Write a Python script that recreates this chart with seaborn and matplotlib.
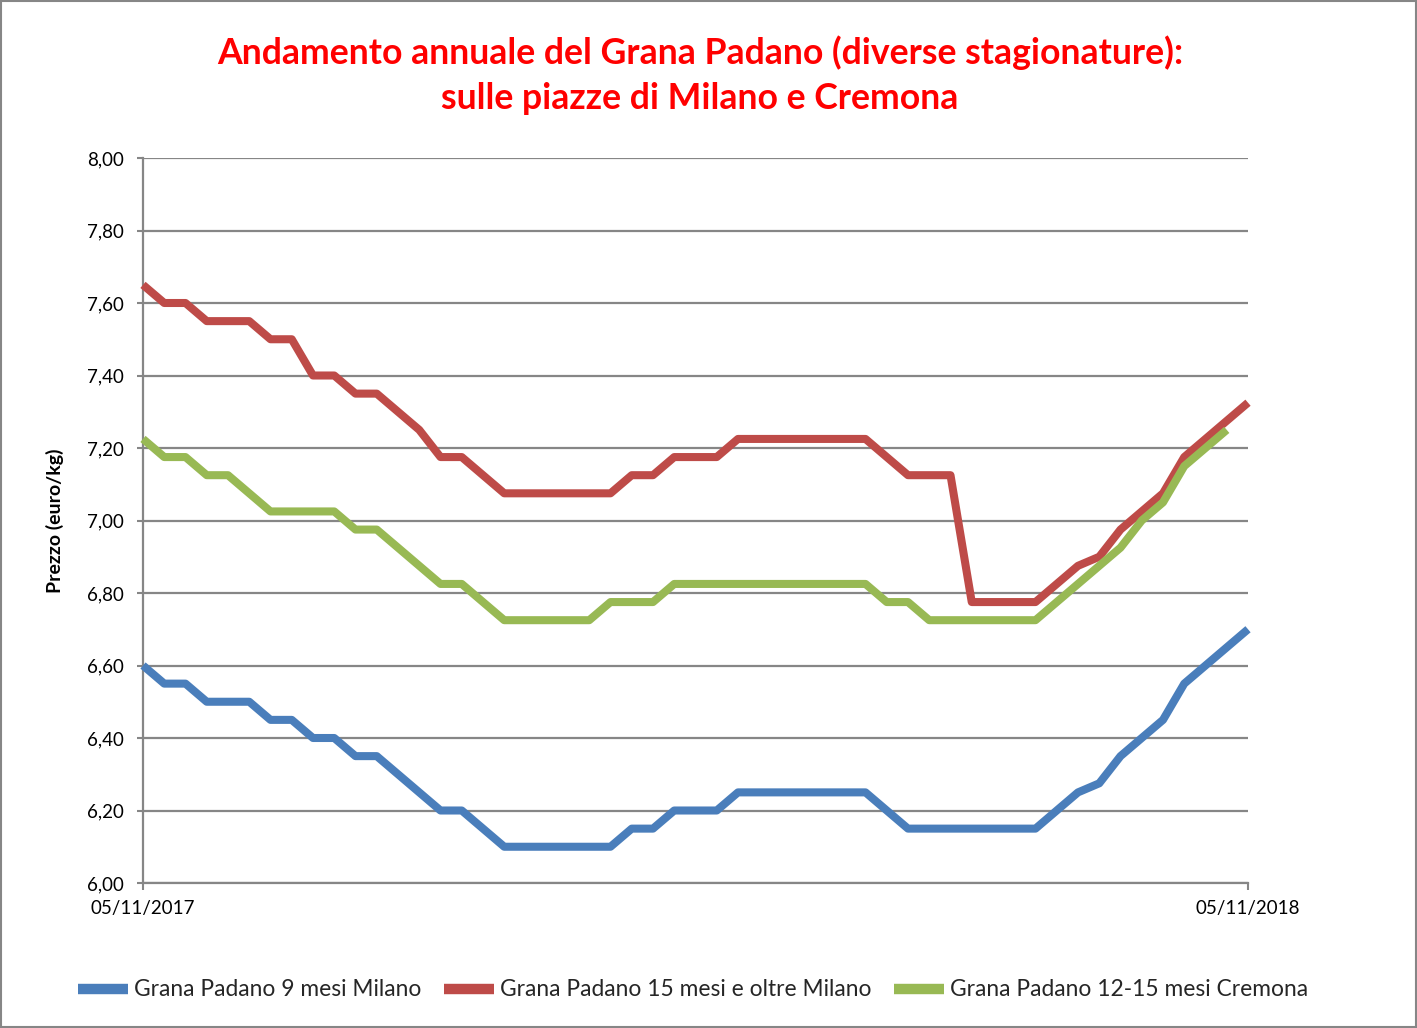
import matplotlib
matplotlib.use("Agg")
import matplotlib.pyplot as plt
import seaborn as sns
import pandas as pd
import numpy as np
from matplotlib.lines import Line2D
from matplotlib.patches import Rectangle

# ---- data (weekly quotations, 05/11/2017 -> 05/11/2018) ----
settimane = list(range(53))

milano_9_mesi = [6.60, 6.55, 6.55, 6.50, 6.50, 6.50, 6.45, 6.45, 6.40, 6.40,
                 6.35, 6.35, 6.30, 6.25, 6.20, 6.20, 6.15, 6.10, 6.10, 6.10,
                 6.10, 6.10, 6.10, 6.15, 6.15, 6.20, 6.20, 6.20, 6.25, 6.25,
                 6.25, 6.25, 6.25, 6.25, 6.25, 6.20, 6.15, 6.15, 6.15, 6.15,
                 6.15, 6.15, 6.15, 6.20, 6.25, 6.275, 6.35, 6.40, 6.45, 6.55,
                 6.60, 6.65, 6.70]

milano_15_mesi = [7.65, 7.60, 7.60, 7.55, 7.55, 7.55, 7.50, 7.50, 7.40, 7.40,
                  7.35, 7.35, 7.30, 7.25, 7.175, 7.175, 7.125, 7.075, 7.075, 7.075,
                  7.075, 7.075, 7.075, 7.125, 7.125, 7.175, 7.175, 7.175, 7.225, 7.225,
                  7.225, 7.225, 7.225, 7.225, 7.225, 7.175, 7.125, 7.125, 7.125, 6.775,
                  6.775, 6.775, 6.775, 6.825, 6.875, 6.90, 6.975, 7.025, 7.075, 7.175,
                  7.225, 7.275, 7.325]

cremona_12_15_mesi = [7.225, 7.175, 7.175, 7.125, 7.125, 7.075, 7.025, 7.025, 7.025, 7.025,
                      6.975, 6.975, 6.925, 6.875, 6.825, 6.825, 6.775, 6.725, 6.725, 6.725,
                      6.725, 6.725, 6.775, 6.775, 6.775, 6.825, 6.825, 6.825, 6.825, 6.825,
                      6.825, 6.825, 6.825, 6.825, 6.825, 6.775, 6.775, 6.725, 6.725, 6.725,
                      6.725, 6.725, 6.725, 6.775, 6.825, 6.875, 6.925, 7.00, 7.05, 7.15,
                      7.20, 7.25]

serie = ["Grana Padano 9 mesi Milano",
         "Grana Padano 15 mesi e oltre Milano",
         "Grana Padano 12-15 mesi Cremona"]
colori = ["#4A7EBB", "#BE4B48", "#98B954"]

etichette_x = ["05/11/2017", "05/11/2018"]
titolo = ("Andamento annuale del Grana Padano (diverse stagionature):",
          "sulle piazze di Milano e Cremona")
etichetta_y = "Prezzo (euro/kg)"

rows = []
for nome, valori in zip(serie, [milano_9_mesi, milano_15_mesi, cremona_12_15_mesi]):
    for s, v in zip(settimane, valori):
        rows.append({"settimana": s, "prezzo": v, "serie": nome})
df = pd.DataFrame(rows)

# ---- style ----
sns.set_theme(style="white")
plt.rcParams["font.family"] = ["Lato", "DejaVu Sans"]

W, H = 1417, 1028
fig = plt.figure(figsize=(W / 100, H / 100), dpi=100)
ax = fig.add_axes([143 / W, 1 - 883 / H, 1105 / W, 725 / H])

sns.lineplot(data=df, x="settimana", y="prezzo", hue="serie", hue_order=serie,
             palette=colori, linewidth=5.8, legend=False, errorbar=None, ax=ax)
for ln in ax.lines:
    ln.set_solid_joinstyle("round")
    ln.set_solid_capstyle("butt")
    ln.set_clip_on(False)
    ln.set_zorder(3)

grigio = "#868686"
ax.set_xlim(0, 52)
ax.set_ylim(6, 8)
yt = np.round(np.arange(6.0, 8.001, 0.2), 2)
ax.set_yticks(yt)
ax.set_yticklabels([f"{v:.2f}".replace(".", ",") for v in yt])
ax.set_xticks([0, 52])
ax.set_xticklabels(etichette_x)

ax.set_axisbelow(True)
ax.yaxis.grid(True, color=grigio, lw=1.6)
ax.xaxis.grid(False)
for sp in ["top", "right"]:
    ax.spines[sp].set_visible(False)
for sp in ["left", "bottom"]:
    ax.spines[sp].set_color(grigio)
    ax.spines[sp].set_linewidth(1.6)

ax.tick_params(axis="y", direction="out", length=4.5, width=1.5, color=grigio,
               pad=9, labelsize=13.5, labelcolor="black", left=True)
ax.tick_params(axis="x", direction="out", length=5, width=1.5, color=grigio,
               pad=7, labelsize=13.5, labelcolor="black", bottom=True)

ax.set_xlabel("")
ax.set_ylabel(etichetta_y, fontsize=14, fontweight="bold", color="black", labelpad=17)

fig.text(700 / W, 1 - 64 / H, titolo[0], ha="center", va="baseline",
         color="#FF0000", fontsize=25.7, fontweight="bold")
fig.text(700 / W, 1 - 109 / H, titolo[1], ha="center", va="baseline",
         color="#FF0000", fontsize=25.7, fontweight="bold")

handles = [Line2D([0], [0], color=c, lw=7.5, solid_capstyle="butt") for c in colori]
fig.legend(handles, serie, loc="center", bbox_to_anchor=(693 / W, 1 - 990 / H),
           ncol=3, frameon=False, fontsize=16.4, handlelength=2.2,
           handletextpad=0.25, columnspacing=1.0)

fig.patches.append(Rectangle((0.0007, 0.001), 0.9986, 0.998, transform=fig.transFigure,
                             fill=False, edgecolor=grigio, lw=1.5))

fig.savefig("out.png", dpi=100)
